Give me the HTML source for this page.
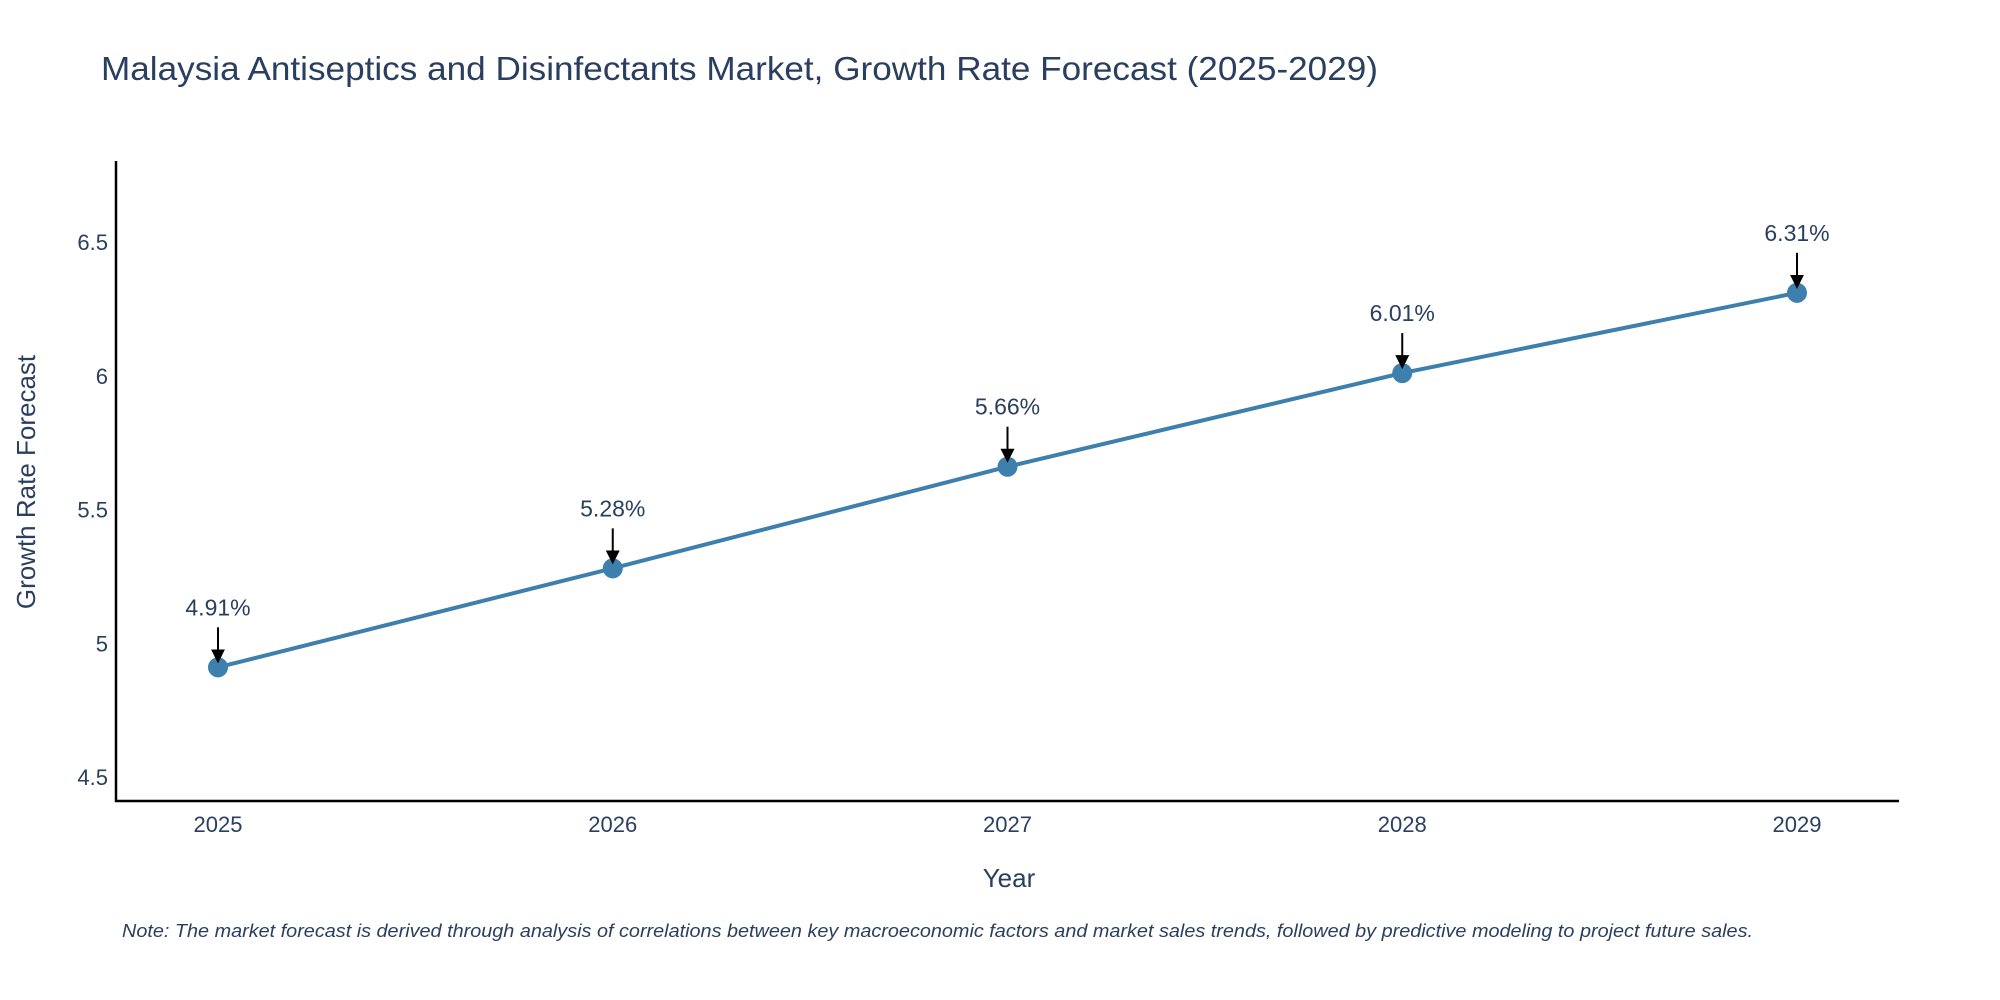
<!DOCTYPE html>
<html><head><meta charset="utf-8"><style>
html,body{margin:0;padding:0;background:#fff;}
svg{display:block;font-family:"Liberation Sans",sans-serif;}
</style></head><body>
<svg id="chart" width="2000" height="1000">
<text x="101" y="80" font-size="33" fill="#2a3f5f" textLength="1277" lengthAdjust="spacingAndGlyphs">Malaysia Antiseptics and Disinfectants Market, Growth Rate Forecast (2025-2029)</text>
<g id="yticks"></g><g id="xticks"></g>
<line x1="116" y1="161" x2="116" y2="802" stroke="#000" stroke-width="2.5"/>
<line x1="115" y1="801" x2="1899" y2="801" stroke="#000" stroke-width="2.5"/>
<path id="series" fill="none" stroke="#3d7fad" stroke-width="4"/>
<g id="marks"></g>
<text x="1009" y="887" font-size="26" fill="#2a3f5f" text-anchor="middle">Year</text>
<text transform="translate(35,482) rotate(-90)" font-size="26" fill="#2a3f5f" text-anchor="middle">Growth Rate Forecast</text>
<text x="122" y="937" font-size="18" font-style="italic" fill="#2a3f5f" textLength="1631" lengthAdjust="spacingAndGlyphs">Note: The market forecast is derived through analysis of correlations between key macroeconomic factors and market sales trends, followed by predictive modeling to project future sales.</text>
<defs><marker id="ah" markerWidth="14" markerHeight="14" refX="12" refY="7" orient="auto" markerUnits="userSpaceOnUse" viewBox="0 0 14 14"><path d="M0,0 L14,7 L0,14 z" fill="#000"/></marker></defs>
</svg>
<script>
const years = [2025, 2026, 2027, 2028, 2029];
const growth = [4.91, 5.28, 5.66, 6.01, 6.31];
const yTickValues = [4.5, 5, 5.5, 6, 6.5];
const yTickLabels = ["4.5", "5", "5.5", "6", "6.5"];
const NS = "http://www.w3.org/2000/svg";
function xs(v){return 218 + (v - 2025) * (1797 - 218) / 4;}
function ys(v){return 777 - (v - 4.5) * 267.5;}
function mk(tag, attrs, parent){const e=document.createElementNS(NS,tag);for(const k in attrs)e.setAttribute(k,attrs[k]);parent.appendChild(e);return e;}
const yt=document.getElementById('yticks');
yTickValues.forEach((v,i)=>{
  const t=mk('text',{x:108,y:ys(v)+8,'font-size':22,fill:'#2a3f5f','text-anchor':'end'},yt);
  
  
  t.textContent=yTickLabels[i];
});
const xt=document.getElementById('xticks');
years.forEach(y=>{
  const t=mk('text',{x:xs(y),y:832,'font-size':22,fill:'#2a3f5f','text-anchor':'middle'},xt);
  
  
  t.textContent=String(y);
});
document.getElementById('series').setAttribute('d',years.map((y,i)=>(i?'L':'M')+xs(y)+','+ys(growth[i])).join(' '));
const mg=document.getElementById('marks');
years.forEach((y,i)=>{
  const cx=xs(y), cy=ys(growth[i]);
  const c=mk('circle',{cx:cx,cy:cy,r:10,fill:'#3d7fad'},mg);
  
  
  const a=mk('line',{x1:cx,y1:cy-40,x2:cx,y2:cy-6,stroke:'#000','stroke-width':2,'marker-end':'url(#ah)'},mg);
  
  
  const t=mk('text',{x:cx,y:cy-52,'font-size':23,fill:'#2a3f5f','text-anchor':'middle'},mg);
  
  
  t.textContent=growth[i].toFixed(2)+'%';
});
</script>
</body></html>
